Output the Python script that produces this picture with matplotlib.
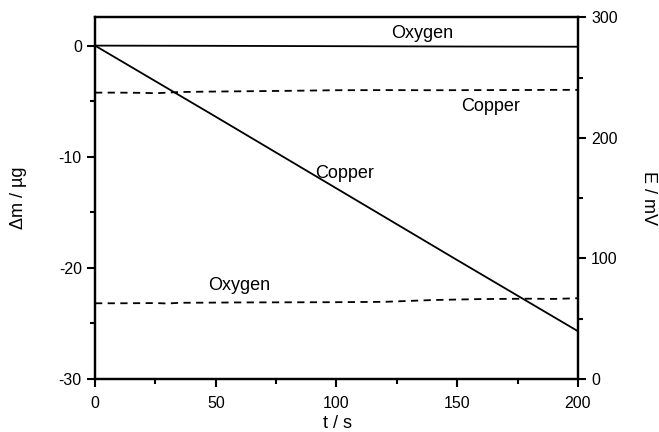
import matplotlib
matplotlib.use("Agg")
import matplotlib.pyplot as plt
from matplotlib.ticker import MultipleLocator

plt.rcParams['font.family'] = ['Liberation Sans', 'DejaVu Sans']
plt.rcParams['axes.unicode_minus'] = False

# mass change (left axis)
t_massa = [0, 50, 100, 150, 200]
massa_zuurstof = [0, -0.02, -0.05, -0.08, -0.1]
massa_koper = [0, -6.4, -12.85, -19.3, -25.7]

# potential (right axis), dashed lines
t_pot = [0, 10, 20, 25, 30, 35, 45, 60, 80, 100, 120, 140, 160, 180, 190, 200]
pot_koper = [237.5, 237.5, 237.3, 237.0, 237.5, 238.0, 238.3, 238.6, 239.0, 239.5, 239.6, 239.5, 239.6, 239.7, 239.8, 239.8]
pot_zuurstof = [62.8, 62.8, 62.9, 63.0, 62.6, 63.2, 63.3, 63.5, 63.6, 63.7, 64.0, 65.5, 66.3, 66.6, 66.4, 67.0]

fig = plt.figure(figsize=(6.59, 4.32), dpi=100)
ax = fig.add_axes([0.1442, 0.1227, 0.7328, 0.8373])
ax2 = ax.twinx()

ax.plot(t_massa, massa_zuurstof, color='black', lw=1.3)
ax.plot(t_massa, massa_koper, color='black', lw=1.3)
ax2.plot(t_pot, pot_koper, color='black', lw=1.3, ls=(0, (4, 3)))
ax2.plot(t_pot, pot_zuurstof, color='black', lw=1.3, ls=(0, (4, 3)))

ax.set_xlim(0, 200)
ax.set_ylim(-30, 2.55)
ax2.set_ylim(0, 300)

ax.xaxis.set_major_locator(MultipleLocator(50))
ax.xaxis.set_minor_locator(MultipleLocator(25))
ax.yaxis.set_major_locator(MultipleLocator(10))
ax.yaxis.set_minor_locator(MultipleLocator(5))
ax2.yaxis.set_major_locator(MultipleLocator(100))
ax2.yaxis.set_minor_locator(MultipleLocator(50))

for a in (ax, ax2):
    for sp in a.spines.values():
        sp.set_linewidth(1.6)
    a.tick_params(which='major', direction='out', length=6, width=1.5, labelsize=11.5)
    a.tick_params(which='minor', direction='out', length=3.5, width=1.5)
ax.tick_params(axis='x', pad=6)

ax.set_xlabel('t / s', fontsize=13, va='center', ha='center')
ax.xaxis.set_label_coords(0.502, -0.122)
ax.set_ylabel('Δm / µg', fontsize=13, va='center', ha='center')
ax.yaxis.set_label_coords(-0.159, 0.5)
ax2.set_ylabel('E / mV', fontsize=13, rotation=270, va='center', ha='center')
ax2.yaxis.set_label_coords(1.146, 0.5)

# labels on the lines
ax.text(135.4, 1.05, 'Oxygen', fontsize=13, ha='center', va='center')
ax.text(103.3, -11.47, 'Copper', fontsize=13, ha='center', va='center')
ax2.text(163.9, 225.7, 'Copper', fontsize=13, ha='center', va='center')
ax2.text(59.8, 77.2, 'Oxygen', fontsize=13, ha='center', va='center')

fig.savefig('out.png', dpi=100)
